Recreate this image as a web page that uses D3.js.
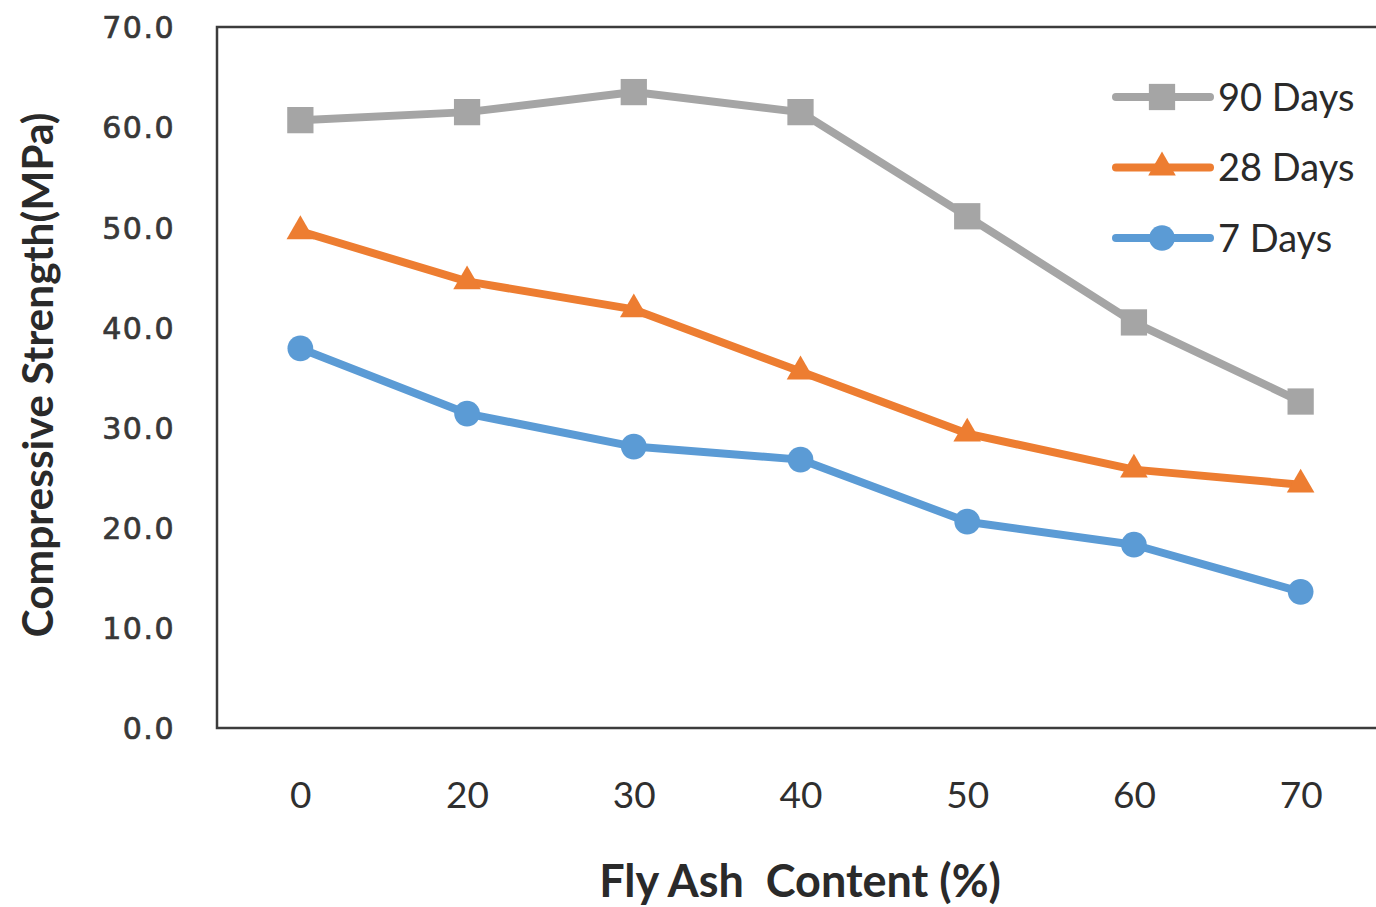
<!DOCTYPE html>
<html>
<head>
<meta charset="utf-8">
<script src="https://cdn.jsdelivr.net/npm/d3@7"></script>
<style>
  html, body { margin: 0; padding: 0; background: #fff; }
  svg { display: block; }
</style>
</head>
<body>
<svg id="chart" width="1376" height="907"></svg>
<script>
// Fly ash content levels (category axis)
const categories = ["0", "20", "30", "40", "50", "60", "70"];

// Compressive strength (MPa) by curing age
const days90 = [60.7, 61.5, 63.5, 61.5, 51.1, 40.5, 32.6];
const days28 = [49.6, 44.6, 41.8, 35.6, 29.4, 25.8, 24.3];
const days7  = [37.9, 31.4, 28.1, 26.8, 20.6, 18.3, 13.6];

const yTicks = [0, 10, 20, 30, 40, 50, 60, 70];

const series = [
  { name: "90 Days", values: days90, color: "#A5A5A5", symbol: d3.symbolSquare,   size: 690 },
  { name: "28 Days", values: days28, color: "#ED7D31", symbol: d3.symbolTriangle, size: 330 },
  { name: "7 Days",  values: days7,  color: "#5B9BD5", symbol: d3.symbolCircle,   size: 520 }
];

const svg = d3.select("#chart");
const plotLeft = 217, plotRight = 1384, plotTop = 27, plotBottom = 728;

const x = d3.scalePoint().domain(categories).range([plotLeft, plotRight]).padding(0.5);
const y = d3.scaleLinear().domain([0, 70]).range([plotBottom, plotTop]);

// plot frame
svg.append("rect")
  .attr("x", plotLeft).attr("y", plotTop)
  .attr("width", plotRight - plotLeft).attr("height", plotBottom - plotTop)
  .attr("fill", "none").attr("stroke", "#3c3c3c").attr("stroke-width", 2.5);

// y axis labels
const yAxis = d3.axisLeft(y).tickValues(yTicks).tickFormat(d3.format(".1f")).tickSize(0).tickPadding(0);
const gy = svg.append("g").attr("transform", `translate(${plotLeft - 42},0)`).call(yAxis);
gy.select(".domain").remove();
gy.selectAll("text")
  .attr("font-family", "DejaVu Sans, sans-serif")
  .attr("font-size", 30)
  .attr("letter-spacing", 1.5)
  .attr("fill", "#383838")
  .attr("stroke", "#383838")
  .attr("stroke-width", 0.7)
  .attr("dy", "0.36em");

// x axis labels
const xAxis = d3.axisBottom(x).tickSize(0).tickPadding(0);
const gx = svg.append("g").attr("transform", `translate(0,${plotBottom + 61})`).call(xAxis);
gx.select(".domain").remove();
gx.selectAll("text")
  .attr("font-family", "Lato, sans-serif")
  .attr("font-size", 37)
  .attr("fill", "#2f2f2f")
  .attr("dy", "0.5em");

// axis titles
svg.append("text")
  .attr("x", 800).attr("y", 897)
  .attr("text-anchor", "middle")
  .attr("font-family", "Lato, sans-serif")
  .attr("font-weight", "bold")
  .attr("font-size", 45)
  .attr("fill", "#2a2a2a")
  .style("white-space", "pre")
  .text("Fly Ash  Content (%)");

svg.append("text")
  .attr("transform", "translate(53,375) rotate(-90)")
  .attr("text-anchor", "middle")
  .attr("font-family", "Lato, sans-serif")
  .attr("font-weight", "bold")
  .attr("font-size", 42.5)
  .attr("fill", "#2a2a2a")
  .text("Compressive Strength(MPa)");

// series lines and markers
const line = d3.line().x((d, i) => x(categories[i])).y(d => y(d));

series.forEach(s => {
  svg.append("path")
    .datum(s.values)
    .attr("d", line)
    .attr("fill", "none")
    .attr("stroke", s.color)
    .attr("stroke-width", 8)
    .attr("stroke-linejoin", "round")
    .attr("stroke-linecap", "round");

  svg.append("g").selectAll("path")
    .data(s.values)
    .join("path")
    .attr("d", d3.symbol().type(s.symbol).size(s.size))
    .attr("transform", (d, i) => `translate(${x(categories[i])},${y(d)})`)
    .attr("fill", s.color);
});

// legend
const legend = svg.append("g");
series.forEach((s, i) => {
  const ly = 97 + i * 70.5;
  legend.append("line")
    .attr("x1", 1116).attr("x2", 1210)
    .attr("y1", ly).attr("y2", ly)
    .attr("stroke", s.color).attr("stroke-width", 8).attr("stroke-linecap", "round");
  legend.append("path")
    .attr("d", d3.symbol().type(s.symbol).size(s.size))
    .attr("transform", `translate(1162,${ly})`)
    .attr("fill", s.color);
  legend.append("text")
    .attr("x", 1218).attr("y", ly)
    .attr("dy", "0.36em")
    .attr("font-family", "Lato, sans-serif")
    .attr("font-size", 38)
    .attr("fill", "#2a2a2a")
    .text(s.name);
});
</script>
</body>
</html>
